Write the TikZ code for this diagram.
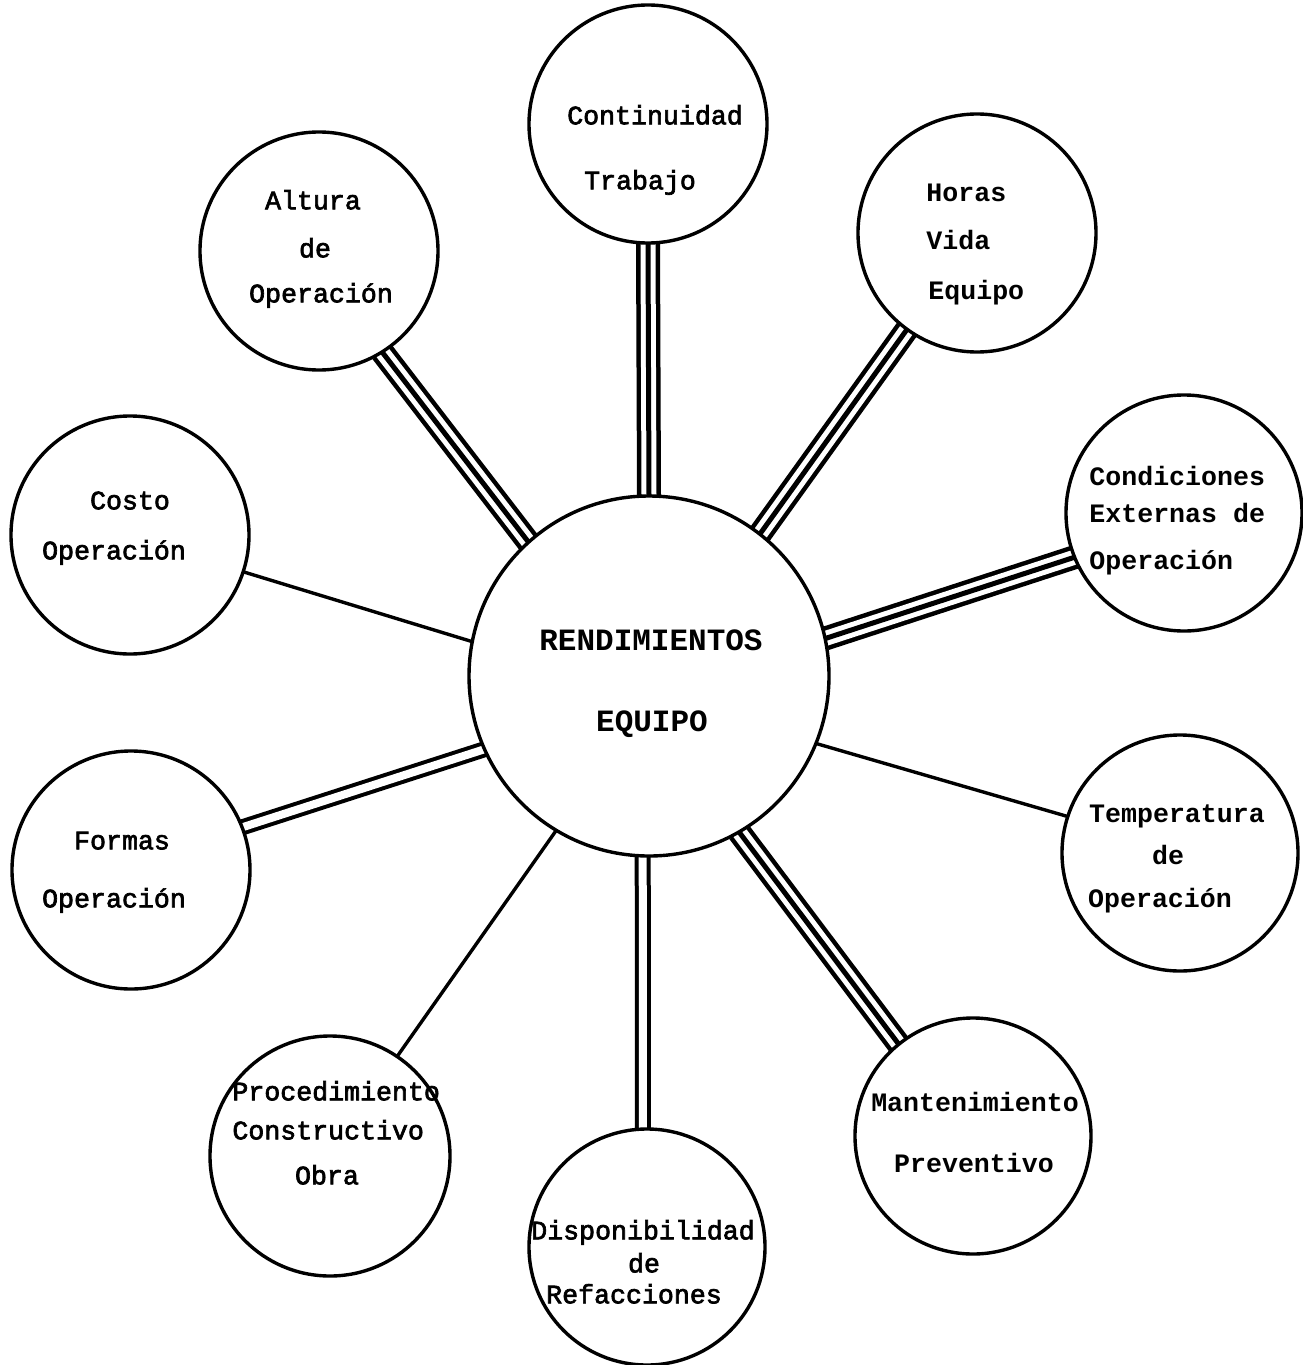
\documentclass[tikz,border=0pt]{standalone}
\usepackage{fontspec}
\newfontfamily\tw[FakeBold=2.5]{Liberation Mono}
\newfontfamily\twb{Liberation Mono}
\pgfdeclarelayer{links}
\pgfsetlayers{links,main}
\tikzset{
  ring/.style={circle, draw, line width=1.7pt, fill=white, inner sep=0pt, outer sep=0pt},
  lbl/.style={font=\tw\fontsize{13.3}{16}\selectfont, inner sep=0pt, anchor=mid},
  lblw/.style={lbl, anchor=mid west},
  lblb/.style={font=\twb\bfseries\fontsize{13.3}{16}\selectfont, inner sep=0pt, anchor=mid},
  lblbw/.style={lblb, anchor=mid west},
  lblc/.style={font=\twb\bfseries\fontsize{15.5}{18}\selectfont, inner sep=0pt, anchor=mid},
  single/.style={line width=1.7pt},
  twin/.style={line width=8pt, postaction={draw=white, line width=4pt}},
  triple/.style={line width=12pt, postaction={draw=white, line width=7.5pt}, postaction={draw=black, line width=2.5pt}}
}
\begin{document}
\begin{tikzpicture}[x=0.5pt,y=-0.5pt]
\useasboundingbox (0,0) rectangle (1302,1365);
% circles
\node[ring, minimum size=180pt] (C) at (649,676) {};
\node[ring, minimum size=119pt] (cont) at (648,124) {};
\node[ring, minimum size=119pt] (alt) at (319,251) {};
\node[ring, minimum size=119pt] (hor) at (977,233) {};
\node[ring, minimum size=119pt] (cos) at (130,535) {};
\node[ring, minimum size=118pt] (cond) at (1184,513) {};
\node[ring, minimum size=119pt] (for) at (131,870) {};
\node[ring, minimum size=118pt] (tem) at (1180,853) {};
\node[ring, minimum size=120pt] (pro) at (330,1156) {};
\node[ring, minimum size=118pt] (dis) at (647,1247) {};
\node[ring, minimum size=118pt] (man) at (973,1136) {};
% texts
\node[lblc] (c1) at (651,646) {RENDIMIENTOS};
\node[lblc] (c2) at (652,727) {EQUIPO};
\node[lbl] (t1a) at (655,120) {Continuidad};
\node[lbl] (t1b) at (640,185) {Trabajo};
\node[lbl] (t2a) at (313,205) {Altura};
\node[lbl] (t2b) at (315,253) {de};
\node[lbl] (t2c) at (321,298) {Operación};
\node[lblbw] (t3a) at (926,197) {Horas};
\node[lblbw] (t3b) at (926,245) {Vida};
\node[lblbw] (t3c) at (928,295) {Equipo};
\node[lbl] (t4a) at (130,505) {Costo};
\node[lbl] (t4b) at (114,555) {Operación};
\node[lblbw] (t5a) at (1089,481) {Condiciones};
\node[lblbw] (t5b) at (1089,518) {Externas de};
\node[lblbw] (t5c) at (1089,565) {Operación};
\node[lbl] (t6a) at (122,845) {Formas};
\node[lbl] (t6b) at (114,903) {Operación};
\node[lblb] (t7a) at (1177,818) {Temperatura};
\node[lblb] (t7b) at (1168,860) {de};
\node[lblb] (t7c) at (1160,903) {Operación};
\node[lblb] (t8a) at (975,1107) {Mantenimiento};
\node[lblb] (t8b) at (974,1168) {Preventivo};
\node[lblw] (t9a) at (232,1096) {Procedimiento};
\node[lblw] (t9b) at (232,1135) {Constructivo};
\node[lbl] (t9c) at (327,1180) {Obra};
\node[lbl] (t10a) at (643,1235) {Disponibilidad};
\node[lbl] (t10b) at (644,1268) {de};
\node[lbl] (t10c) at (634,1299) {Refacciones};
% connectors
\begin{pgfonlayer}{links}
\fill[white] (0,0) rectangle (1302,1365);
\draw[triple] (cont.-90) -- (C.90);
\draw[triple] (alt.-58) -- (C.132.3);
\draw[triple] (hor.-126.7) -- (C.52);
\draw[triple] (cond.-158.6) -- (C.12.9);
\draw[single] (cos.-18.3) -- (C.169.1);
\draw[twin] (for.21) -- (C.-156.1);
\draw[single] (tem.162.8) -- (C.-22);
\draw[single] (pro.56.9) -- (C.-121);
\draw[twin] (dis.92.4) -- (C.-92.2);
\draw[triple] (man.129.3) -- (C.-60.3);
\end{pgfonlayer}
\end{tikzpicture}
\end{document}
